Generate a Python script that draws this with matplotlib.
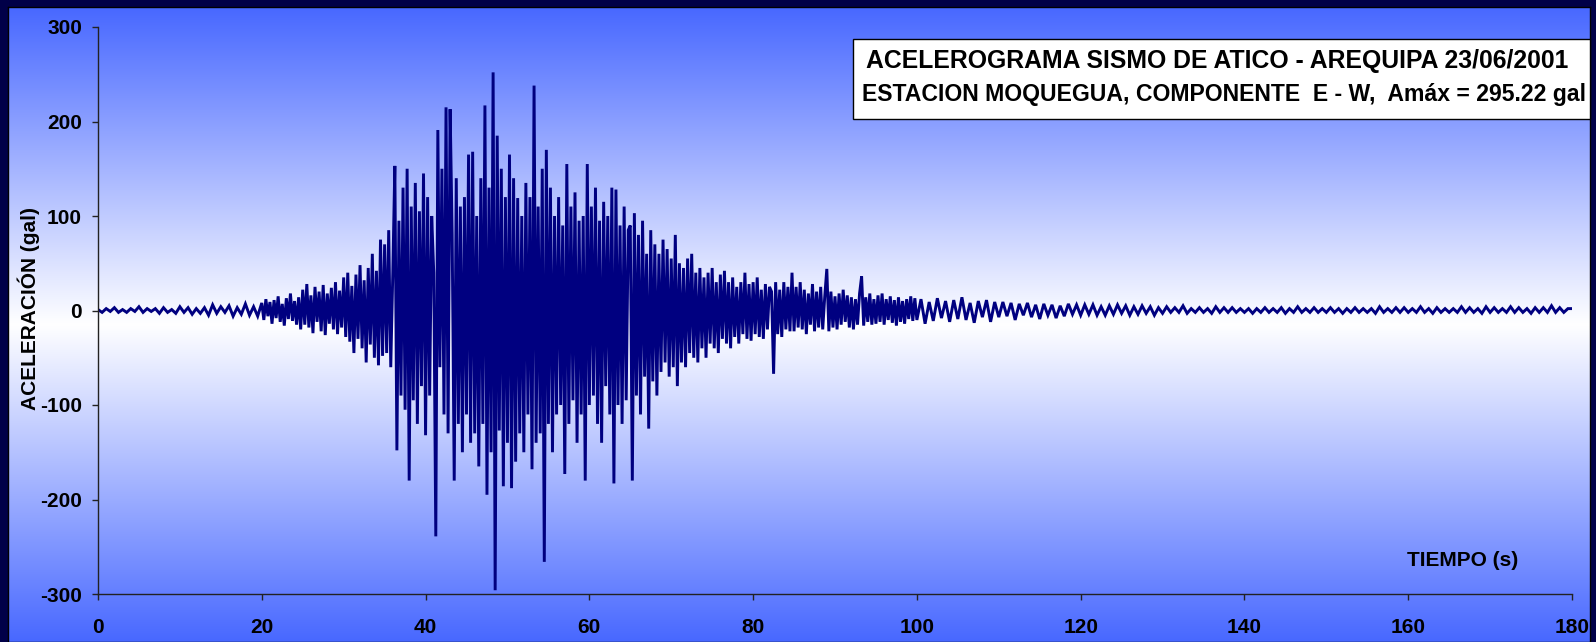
import numpy as np
import matplotlib.pyplot as plt
from matplotlib.patches import Rectangle

# acceleration (gal), three pieces with their own sampling step
dt_quiet = 0.5
dt_strong = 0.25

# t = 0 .. 19.5 s
acc_0_20 = [1, -2, 2, -1, 3, -2, 1, -2, 2, -1, 4, -2, 2, -1, 2, -3, 3, -2, 1, -3,
            4, -2, 3, -4, 2, -3, 3, -5, 6, -3, 4, -2, 5, -6, 3, -4, 7, -5, 4, -6]

# t = 20 .. 99.75 s, one row = 5 s
acc_20_100 = [
    8, -10, 12, -6, 9, -14, 11, -8, 15, -12, 7, -16, 13, -9, 18, -11, 10, -15, 14, -20,
    22, -15, 28, -18, 16, -24, 25, -12, 20, -22, 27, -26, 18, -14, 24, -20, 30, -25, 21, -18,
    35, -28, 40, -33, 26, -45, 38, -30, 48, -40, 32, -55, 45, -36, 60, -50, 42, -58, 75, -48,
    70, -45, 85, -60, 40, 153, -148, 95, -90, 130, -105, 150, -180, 110, -95, 135, -120, 105, -80, 145,
    -132, 120, -90, 100, 40, -239, 191, -60, 150, -110, 215, -130, 213, 80, -180, 140, -120, 110, -150, 120,
    -110, 165, -140, 168, -130, 100, -165, 140, -120, 217, -195, 130, -150, 252, -296, 185, -127, 150, -186, 120,
    -140, 165, -188, 140, -160, 119, -130, 100, -150, 135, -110, 120, -168, 238, -140, 110, -130, 150, -266, 170,
    -120, 130, -150, 100, -110, 120, -100, 90, -173, 155, -120, 110, -95, 125, -140, 95, -110, 100, -180, 155,
    -100, 110, -90, 130, -120, 95, -140, 115, -80, 100, -110, 130, -183, 128, -100, 90, -120, 110, -95, 85,
    90, -180, 103, -90, 80, -110, 95, -70, 60, -125, 85, -75, 70, -90, 60, -65, 75, -55, 65, -70,
    55, -60, 80, -80, 50, -55, 45, -60, 55, -45, 60, -50, 40, -55, 45, -40, 35, -50, 40, -35,
    45, -40, 30, -45, 38, -30, 42, -35, 30, -40, 35, -28, 25, -35, 30, -25, 40, -30, 28, -32,
    30, -25, 35, -28, 22, -30, 28, -20, 25, 20, -67, 30, -25, 22, -28, 30, -20, 25, -22, 40,
    -22, 25, -18, 30, -20, 22, -25, 18, -15, 28, -22, 20, -18, 25, -20, 15, 44, -22, 20, -18,
    15, -20, 18, -15, 22, -12, 16, -18, 14, -20, 12, -15, 18, 36, -16, 14, -12, 18, -15, 12,
    -14, 16, -12, 18, -15, 12, -10, 15, -13, 11, -16, 14, -12, 10, -14, 12, -9, 15, -11, 13,
]

# t = 100 .. 180 s, one row = 10 s
acc_100_180 = [
    -10, 12, -14, 9, -11, 13, -8, 10, -12, 11, -9, 14, -10, 8, -13, 10, -7, 11, -12, 9,
    -7, 9, -6, 8, -10, 7, -5, 8, -7, 6, -9, 7, -5, 6, -8, 5, -6, 7, -4, 6,
    -5, 6, -4, 6, -5, 4, -5, 5, -4, 6, -3, 5, -5, 4, -4, 5, -3, 4, -5, 3,
    -3, 4, -2, 3, -2, 5, -3, 2, -2, 3, -2, 2, -3, 4, -2, 3, -2, 3, -2, 2,
    -2, 2, -3, 2, -2, 3, -2, 2, -2, 3, -3, 2, -2, 4, -2, 2, -2, 3, -2, 2,
    -2, 3, -2, 2, -3, 2, -2, 3, -2, 2, -2, 2, -3, 4, -2, 2, -2, 3, -2, 3,
    -2, 2, -2, 4, -2, 2, -3, 3, -2, 2, -2, 2, -2, 4, -2, 3, -2, 2, -3, 4,
    -2, 3, -2, 2, -2, 4, -2, 3, -2, 2, -3, 3, -2, 3, -2, 5, -2, 3, -2, 2,
    2,
]

x_ticks = [0, 20, 40, 60, 80, 100, 120, 140, 160, 180]
y_ticks = [-300, -200, -100, 0, 100, 200, 300]
title_lines = ['ACELEROGRAMA SISMO DE ATICO - AREQUIPA 23/06/2001',
               'ESTACION MOQUEGUA, COMPONENTE  E - W,  Amáx = 295.22 gal']

t = np.concatenate([
    0 + dt_quiet * np.arange(len(acc_0_20)),
    20 + dt_strong * np.arange(len(acc_20_100)),
    100 + dt_quiet * np.arange(len(acc_100_180)),
])
acc = np.concatenate([acc_0_20, acc_20_100, acc_100_180])

plt.rcParams['font.family'] = ['Liberation Sans', 'DejaVu Sans']
plt.rcParams['font.weight'] = 'bold'
plt.rcParams['axes.unicode_minus'] = False

W, H = 1596, 642
fig = plt.figure(figsize=(W / 100, H / 100), dpi=100, facecolor='#000048')


def fx(px):
    return px / W


def fy(py):
    return 1 - py / H


# blue - white - blue background inside the dark frame
bg = fig.add_axes([fx(8), 0, fx(1590 - 8), fy(7)], zorder=0)
rows = np.linspace(0, 1, 400)
mix = np.clip(np.abs(rows - 0.5) / 0.5, 0, 1)[:, None]
top = np.array([72, 104, 255]) / 255
grad = (1 - mix) * np.ones(3) + mix * top
bg.imshow(grad[:, None, :], aspect='auto', extent=[0, 1, 0, 1])
bg.set_xticks([])
bg.set_yticks([])
for s in bg.spines.values():
    s.set_color('black')
    s.set_linewidth(1)

ax = fig.add_axes([fx(98), fy(594), fx(1572 - 98), fy(27) - fy(594)], zorder=1)
ax.patch.set_alpha(0)
ax.plot(t, acc, color='#000080', linewidth=2.1, solid_joinstyle='miter')
ax.set_xlim(0, 180)
ax.set_ylim(-300, 300)
ax.set_xticks(x_ticks)
ax.set_yticks(y_ticks)
ax.spines['top'].set_visible(False)
ax.spines['right'].set_visible(False)
for s in ['left', 'bottom']:
    ax.spines[s].set_color('#222222')
    ax.spines[s].set_linewidth(1)
ax.tick_params(axis='both', direction='out', length=4.5, width=1, color='#222222',
               labelsize=15)
ax.tick_params(axis='y', pad=7)
ax.tick_params(axis='x', pad=13)
for lab in ax.get_xticklabels() + ax.get_yticklabels():
    lab.set_fontweight('bold')

fig.text(fx(29), fy(308), 'ACELERACIÓN (gal)', rotation=90, ha='center', va='center',
         fontsize=15, fontweight='bold', zorder=3)
fig.text(fx(1463), fy(561), 'TIEMPO (s)', ha='center', va='center',
         fontsize=15, fontweight='bold', zorder=3)

# title box
fig.patches.append(Rectangle((fx(853), fy(119)), fx(1590 - 853), fy(39) - fy(119),
                             transform=fig.transFigure, facecolor='white',
                             edgecolor='black', linewidth=1, zorder=2))
fig.text(fx(1217), fy(61), title_lines[0], ha='center', va='center',
         fontsize=17.8, fontweight='bold', zorder=3)
fig.text(fx(1224), fy(94), title_lines[1], ha='center', va='center',
         fontsize=16.6, fontweight='bold', zorder=3)

fig.savefig('out.png', dpi=100, facecolor=fig.get_facecolor())
